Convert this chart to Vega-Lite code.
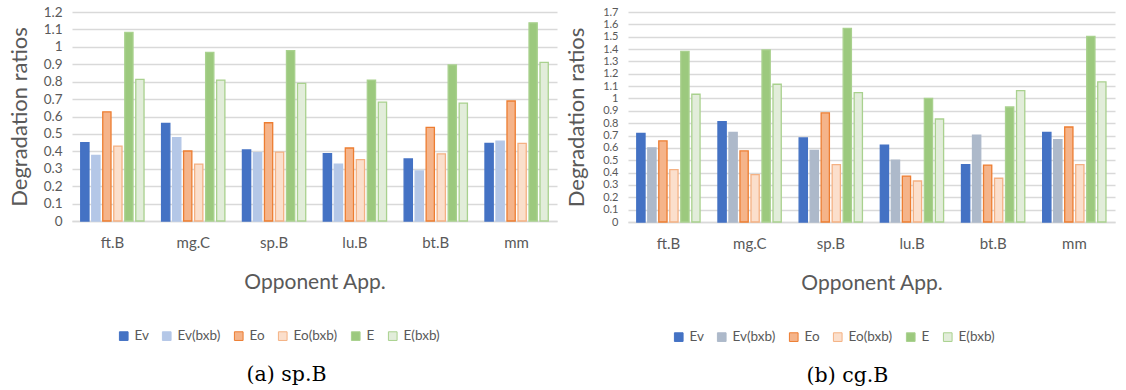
{
  "$schema": "https://vega.github.io/schema/vega-lite/v6.json",
  "padding": {"left": 8, "top": 5, "right": 4, "bottom": 0},
  "spacing": 8,
  "config": {
    "font": "Lato",
    "view": {"stroke": null},
    "axis": {"labelColor": "#595959", "titleColor": "#595959", "titleFontWeight": "normal", "ticks": false, "labelOverlap": false},
    "legend": {"labelColor": "#595959", "labelFontSize": 13.5, "symbolType": "square", "symbolSize": 75, "symbolStrokeWidth": 1, "orient": "none", "direction": "horizontal", "columnPadding": 11, "labelOffset": 4, "title": null},
    "title": {"font": "DejaVu Serif", "fontSize": 20.5, "fontWeight": "normal", "color": "#000000", "orient": "bottom", "offset": 22}
  },
  "datasets": {
    "d": [
      {"panel": "a", "app": "ft.B", "series": "Ev", "value": 0.45},
      {"panel": "a", "app": "ft.B", "series": "Ev(bxb)", "value": 0.377},
      {"panel": "a", "app": "ft.B", "series": "Eo", "value": 0.627},
      {"panel": "a", "app": "ft.B", "series": "Eo(bxb)", "value": 0.43},
      {"panel": "a", "app": "ft.B", "series": "E", "value": 1.083},
      {"panel": "a", "app": "ft.B", "series": "E(bxb)", "value": 0.813},
      {"panel": "a", "app": "mg.C", "series": "Ev", "value": 0.561},
      {"panel": "a", "app": "mg.C", "series": "Ev(bxb)", "value": 0.478},
      {"panel": "a", "app": "mg.C", "series": "Eo", "value": 0.402},
      {"panel": "a", "app": "mg.C", "series": "Eo(bxb)", "value": 0.327},
      {"panel": "a", "app": "mg.C", "series": "E", "value": 0.968},
      {"panel": "a", "app": "mg.C", "series": "E(bxb)", "value": 0.809},
      {"panel": "a", "app": "sp.B", "series": "Ev", "value": 0.408},
      {"panel": "a", "app": "sp.B", "series": "Ev(bxb)", "value": 0.393},
      {"panel": "a", "app": "sp.B", "series": "Eo", "value": 0.564},
      {"panel": "a", "app": "sp.B", "series": "Eo(bxb)", "value": 0.396},
      {"panel": "a", "app": "sp.B", "series": "E", "value": 0.978},
      {"panel": "a", "app": "sp.B", "series": "E(bxb)", "value": 0.79},
      {"panel": "a", "app": "lu.B", "series": "Ev", "value": 0.386},
      {"panel": "a", "app": "lu.B", "series": "Ev(bxb)", "value": 0.327},
      {"panel": "a", "app": "lu.B", "series": "Eo", "value": 0.419},
      {"panel": "a", "app": "lu.B", "series": "Eo(bxb)", "value": 0.352},
      {"panel": "a", "app": "lu.B", "series": "E", "value": 0.809},
      {"panel": "a", "app": "lu.B", "series": "E(bxb)", "value": 0.683},
      {"panel": "a", "app": "bt.B", "series": "Ev", "value": 0.356},
      {"panel": "a", "app": "bt.B", "series": "Ev(bxb)", "value": 0.287},
      {"panel": "a", "app": "bt.B", "series": "Eo", "value": 0.538},
      {"panel": "a", "app": "bt.B", "series": "Eo(bxb)", "value": 0.385},
      {"panel": "a", "app": "bt.B", "series": "E", "value": 0.896},
      {"panel": "a", "app": "bt.B", "series": "E(bxb)", "value": 0.677},
      {"panel": "a", "app": "mm", "series": "Ev", "value": 0.446},
      {"panel": "a", "app": "mm", "series": "Ev(bxb)", "value": 0.459},
      {"panel": "a", "app": "mm", "series": "Eo", "value": 0.689},
      {"panel": "a", "app": "mm", "series": "Eo(bxb)", "value": 0.446},
      {"panel": "a", "app": "mm", "series": "E", "value": 1.138},
      {"panel": "a", "app": "mm", "series": "E(bxb)", "value": 0.911},
      {"panel": "b", "app": "ft.B", "series": "Ev", "value": 0.718},
      {"panel": "b", "app": "ft.B", "series": "Ev(bxb)", "value": 0.6},
      {"panel": "b", "app": "ft.B", "series": "Eo", "value": 0.656},
      {"panel": "b", "app": "ft.B", "series": "Eo(bxb)", "value": 0.424},
      {"panel": "b", "app": "ft.B", "series": "E", "value": 1.382},
      {"panel": "b", "app": "ft.B", "series": "E(bxb)", "value": 1.034},
      {"panel": "b", "app": "mg.C", "series": "Ev", "value": 0.812},
      {"panel": "b", "app": "mg.C", "series": "Ev(bxb)", "value": 0.726},
      {"panel": "b", "app": "mg.C", "series": "Eo", "value": 0.575},
      {"panel": "b", "app": "mg.C", "series": "Eo(bxb)", "value": 0.383},
      {"panel": "b", "app": "mg.C", "series": "E", "value": 1.393},
      {"panel": "b", "app": "mg.C", "series": "E(bxb)", "value": 1.115},
      {"panel": "b", "app": "sp.B", "series": "Ev", "value": 0.68},
      {"panel": "b", "app": "sp.B", "series": "Ev(bxb)", "value": 0.58},
      {"panel": "b", "app": "sp.B", "series": "Eo", "value": 0.883},
      {"panel": "b", "app": "sp.B", "series": "Eo(bxb)", "value": 0.464},
      {"panel": "b", "app": "sp.B", "series": "E", "value": 1.568},
      {"panel": "b", "app": "sp.B", "series": "E(bxb)", "value": 1.047},
      {"panel": "b", "app": "lu.B", "series": "Ev", "value": 0.623},
      {"panel": "b", "app": "lu.B", "series": "Ev(bxb)", "value": 0.5},
      {"panel": "b", "app": "lu.B", "series": "Eo", "value": 0.372},
      {"panel": "b", "app": "lu.B", "series": "Eo(bxb)", "value": 0.332},
      {"panel": "b", "app": "lu.B", "series": "E", "value": 1.001},
      {"panel": "b", "app": "lu.B", "series": "E(bxb)", "value": 0.834},
      {"panel": "b", "app": "bt.B", "series": "Ev", "value": 0.464},
      {"panel": "b", "app": "bt.B", "series": "Ev(bxb)", "value": 0.704},
      {"panel": "b", "app": "bt.B", "series": "Eo", "value": 0.461},
      {"panel": "b", "app": "bt.B", "series": "Eo(bxb)", "value": 0.354},
      {"panel": "b", "app": "bt.B", "series": "E", "value": 0.931},
      {"panel": "b", "app": "bt.B", "series": "E(bxb)", "value": 1.063},
      {"panel": "b", "app": "mm", "series": "Ev", "value": 0.726},
      {"panel": "b", "app": "mm", "series": "Ev(bxb)", "value": 0.666},
      {"panel": "b", "app": "mm", "series": "Eo", "value": 0.769},
      {"panel": "b", "app": "mm", "series": "Eo(bxb)", "value": 0.464},
      {"panel": "b", "app": "mm", "series": "E", "value": 1.503},
      {"panel": "b", "app": "mm", "series": "E(bxb)", "value": 1.135}
    ]
  },
  "resolve": {"scale": {"color": "independent", "stroke": "independent", "y": "independent"}, "legend": {"color": "independent", "stroke": "independent"}},
  "hconcat": [
    {
      "width": 485,
      "height": 209,
      "data": {"name": "d"},
      "transform": [{"filter": "datum.panel === 'a'"}],
      "title": {"text": "(a) sp.B", "dx": -28},
      "mark": {"type": "bar", "strokeWidth": 1.3},
      "encoding": {
        "x": {"field": "app", "type": "nominal", "sort": ["ft.B", "mg.C", "sp.B", "lu.B", "bt.B", "mm"],
          "scale": {"paddingInner": 0.217, "paddingOuter": 0.108},
          "axis": {"title": "Opponent App.", "labelAngle": 0, "labelFontSize": 15, "labelPadding": 14, "titleFontSize": 21, "titlePadding": 21, "domainColor": "#D9D9D9", "domainWidth": 1.5}},
        "xOffset": {"field": "series", "sort": ["Ev", "Ev(bxb)", "Eo", "Eo(bxb)", "E", "E(bxb)"], "scale": {"paddingInner": 0.25}},
        "y": {"field": "value", "type": "quantitative", "scale": {"domain": [0, 1.2], "nice": false},
          "axis": {"title": "Degradation ratios", "values": [0, 0.1, 0.2, 0.3, 0.4, 0.5, 0.6, 0.7, 0.8, 0.9, 1, 1.1, 1.2], "format": "~g", "labelFontSize": 13.5, "labelPadding": 10, "titleFontSize": 22, "titlePadding": 12, "domain": false, "gridColor": "#D9D9D9", "gridWidth": 1.3}},
        "color": {"field": "series", "type": "nominal", "sort": ["Ev", "Ev(bxb)", "Eo", "Eo(bxb)", "E", "E(bxb)"],
          "scale": {"domain": ["Ev", "Ev(bxb)", "Eo", "Eo(bxb)", "E", "E(bxb)"], "range": ["#4472C4", "#B4C7E7", "#F5B48A", "#FBDFCC", "#9CC97E", "#E2EDDA"]},
          "legend": {"legendX": 45, "legendY": 317}},
        "stroke": {"field": "series", "type": "nominal",
          "scale": {"domain": ["Ev", "Ev(bxb)", "Eo", "Eo(bxb)", "E", "E(bxb)"], "range": ["#4472C4", "#B4C7E7", "#ED7D31", "#F4B183", "#A9D18E", "#A9D18E"]},
          "legend": {"legendX": 45, "legendY": 317}}
      }
    },
    {
      "width": 487,
      "height": 210,
      "data": {"name": "d"},
      "transform": [{"filter": "datum.panel === 'b'"}],
      "title": {"text": "(b) cg.B", "dx": -24},
      "mark": {"type": "bar", "strokeWidth": 1.3},
      "encoding": {
        "x": {"field": "app", "type": "nominal", "sort": ["ft.B", "mg.C", "sp.B", "lu.B", "bt.B", "mm"],
          "scale": {"paddingInner": 0.217, "paddingOuter": 0.108},
          "axis": {"title": "Opponent App.", "labelAngle": 0, "labelFontSize": 15, "labelPadding": 14, "titleFontSize": 21, "titlePadding": 21, "domainColor": "#D9D9D9", "domainWidth": 1.5}},
        "xOffset": {"field": "series", "sort": ["Ev", "Ev(bxb)", "Eo", "Eo(bxb)", "E", "E(bxb)"], "scale": {"paddingInner": 0.25}},
        "y": {"field": "value", "type": "quantitative", "scale": {"domain": [0, 1.7], "nice": false},
          "axis": {"title": "Degradation ratios", "values": [0, 0.1, 0.2, 0.3, 0.4, 0.5, 0.6, 0.7, 0.8, 0.9, 1, 1.1, 1.2, 1.3, 1.4, 1.5, 1.6, 1.7], "format": "~g", "labelFontSize": 11, "labelPadding": 10, "titleFontSize": 22, "titlePadding": 14, "domain": false, "gridColor": "#D9D9D9", "gridWidth": 1.3}},
        "color": {"field": "series", "type": "nominal", "sort": ["Ev", "Ev(bxb)", "Eo", "Eo(bxb)", "E", "E(bxb)"],
          "scale": {"domain": ["Ev", "Ev(bxb)", "Eo", "Eo(bxb)", "E", "E(bxb)"], "range": ["#4472C4", "#ADB9CA", "#F5B48A", "#FBDFCC", "#9CC97E", "#E2EDDA"]},
          "legend": {"legendX": 44, "legendY": 318}},
        "stroke": {"field": "series", "type": "nominal",
          "scale": {"domain": ["Ev", "Ev(bxb)", "Eo", "Eo(bxb)", "E", "E(bxb)"], "range": ["#4472C4", "#ADB9CA", "#ED7D31", "#F4B183", "#A9D18E", "#A9D18E"]},
          "legend": {"legendX": 44, "legendY": 318}}
      }
    }
  ]
}
